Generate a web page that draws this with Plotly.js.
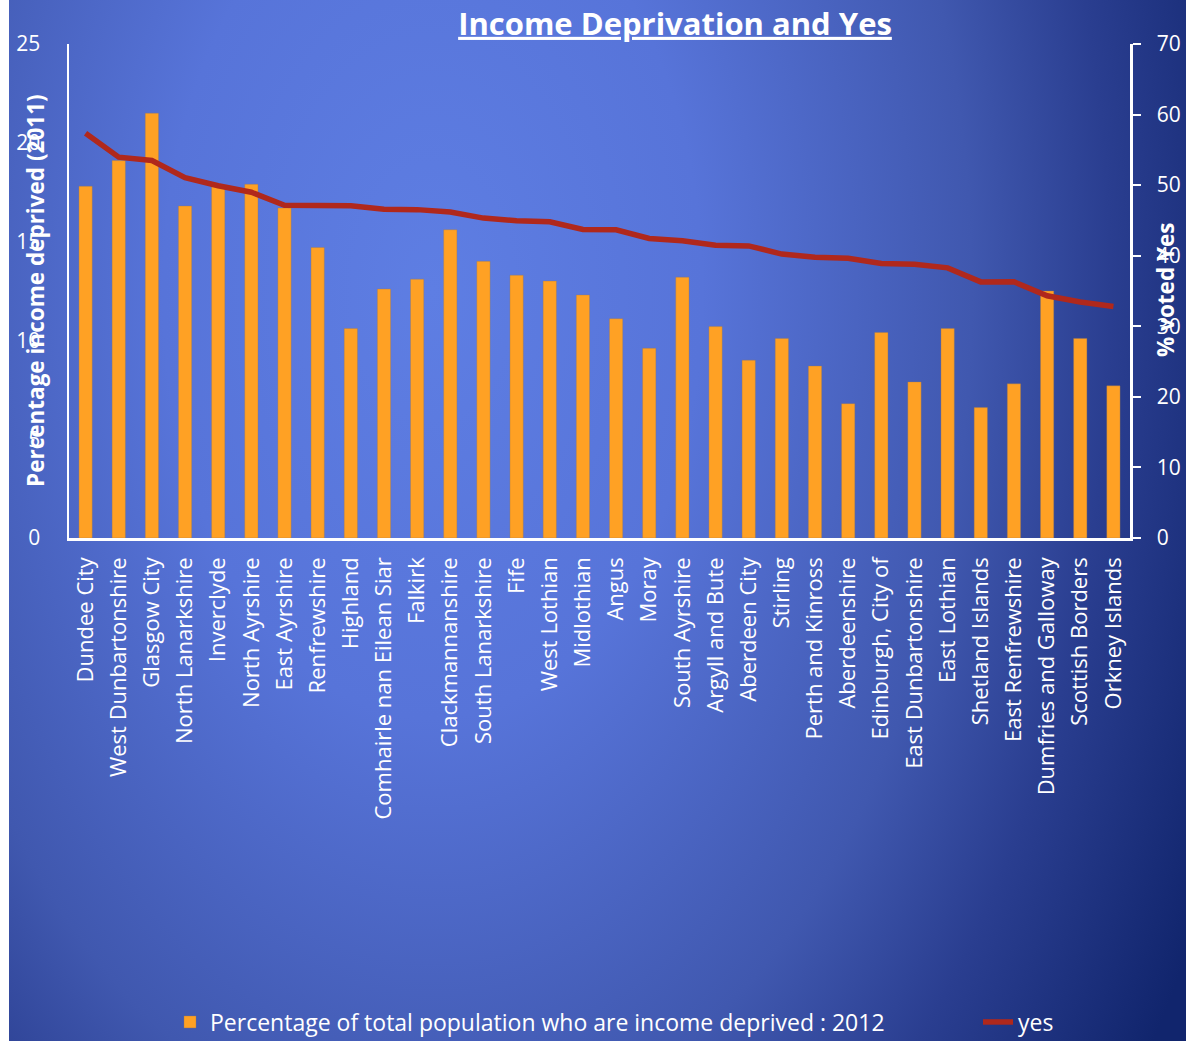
<!DOCTYPE html>
<html>
<head>
<meta charset="utf-8">
<script src="https://cdn.plot.ly/plotly-3.0.1.min.js"></script>
<style>
  html, body { margin: 0; padding: 0; background: #ffffff; }
  #bg {
    position: absolute; left: 9px; top: 0; width: 1177px; height: 1041px;
    background: radial-gradient(ellipse 770px 1220px at 36% 28%, #5E7EE3 0%, #5774D9 35%, #4058AF 70%, #2A3E90 88%, #11256D 112%);
  }
  #chart { position: absolute; left: 0; top: 0; width: 1191px; height: 1041px; }
</style>
</head>
<body>
<div id="bg"></div>
<div id="chart"></div>
<script>
const councils = [
  "Dundee City", "West Dunbartonshire", "Glasgow City", "North Lanarkshire", "Inverclyde",
  "North Ayrshire", "East Ayrshire", "Renfrewshire", "Highland", "Comhairle nan Eilean Siar",
  "Falkirk", "Clackmannanshire", "South Lanarkshire", "Fife", "West Lothian", "Midlothian",
  "Angus", "Moray", "South Ayrshire", "Argyll and Bute", "Aberdeen City", "Stirling",
  "Perth and Kinross", "Aberdeenshire", "Edinburgh, City of", "East Dunbartonshire",
  "East Lothian", "Shetland Islands", "East Renfrewshire", "Dumfries and Galloway",
  "Scottish Borders", "Orkney Islands"
];

const incomeDeprived2012 = [
  17.8, 19.1, 21.5, 16.8, 17.8, 17.9, 16.7, 14.7, 10.6, 12.6,
  13.1, 15.6, 14.0, 13.3, 13.0, 12.3, 11.1, 9.6, 13.2, 10.7,
  9.0, 10.1, 8.7, 6.8, 10.4, 7.9, 10.6, 6.6, 7.8, 12.5, 10.1, 7.7
];

const yesVote = [
  57.35, 53.96, 53.49, 51.07, 49.92, 48.99, 47.16, 47.16, 47.08, 46.58,
  46.53, 46.20, 45.33, 44.95, 44.82, 43.72, 43.68, 42.44, 42.13, 41.48,
  41.39, 40.23, 39.78, 39.64, 38.90, 38.80, 38.28, 36.29, 36.30, 34.33, 33.44, 32.80
];

const leftTicks = [0, 5, 10, 15, 20, 25];
const rightTicks = [0, 10, 20, 30, 40, 50, 60, 70];

const FONT = "Open Sans, DejaVu Sans, sans-serif";

const traces = [
  {
    type: "bar",
    x: councils,
    y: incomeDeprived2012,
    name: "Percentage of total population who are income deprived : 2012",
    marker: { color: "#FFA124", line: { width: 0.6, color: "rgba(150,120,90,0.6)" } },
    width: 0.4,
    yaxis: "y",
    legend: "legend"
  },
  {
    type: "scatter",
    mode: "lines",
    x: councils,
    y: yesVote,
    name: "yes",
    line: { color: "#B0281C", width: 5.5 },
    yaxis: "y2",
    legend: "legend2"
  }
];

const legendBase = {
  orientation: "h",
  xref: "container", yref: "container",
  y: 1 - 1022 / 1041,
  xanchor: "left", yanchor: "middle",
  bgcolor: "rgba(0,0,0,0)",
  font: { family: FONT, size: 23, color: "#ffffff" }
};

const layout = {
  width: 1191,
  height: 1041,
  paper_bgcolor: "rgba(0,0,0,0)",
  plot_bgcolor: "rgba(0,0,0,0)",
  margin: { l: 69, r: 61, t: 44, b: 503 },
  font: { family: FONT, color: "#ffffff", size: 21 },
  title: {
    text: "<b>Income Deprivation and Yes</b>",
    xref: "container", yref: "container",
    x: 675 / 1191, y: 1 - 24 / 1041,
    xanchor: "center", yanchor: "middle",
    font: { family: FONT, size: 31, color: "#ffffff", lineposition: "under" }
  },
  xaxis: {
    type: "category",
    tickangle: -90,
    showline: true, linecolor: "#ffffff", linewidth: 2.5,
    showgrid: false, zeroline: false,
    ticks: "",
    ticklabelstandoff: 8,
    tickfont: { family: FONT, size: 22, color: "#ffffff" },
    automargin: false
  },
  yaxis: {
    range: [0, 25],
    tickvals: leftTicks,
    showline: true, linecolor: "#ffffff", linewidth: 2.5,
    showgrid: false, zeroline: false,
    ticks: "",
    ticklabelstandoff: 22,
    tickfont: { family: FONT, size: 21, color: "#ffffff" },
    automargin: false
  },
  yaxis2: {
    overlaying: "y",
    side: "right",
    range: [0, 70],
    tickvals: rightTicks,
    showline: true, linecolor: "#ffffff", linewidth: 2.5,
    showgrid: false, zeroline: false,
    ticks: "outside", ticklen: 8, tickwidth: 2, tickcolor: "#ffffff",
    ticklabelstandoff: 12,
    tickfont: { family: FONT, size: 21, color: "#ffffff" },
    automargin: false
  },
  annotations: [
    {
      text: "<b>Percentage income deprived (2011)</b>",
      xref: "paper", yref: "paper",
      x: (35 - 69) / 1061, y: (538 - 291) / 494,
      xanchor: "center", yanchor: "middle",
      textangle: -90, showarrow: false,
      font: { family: FONT, size: 22.5, color: "#ffffff" }
    },
    {
      text: "<b>% voted Yes</b>",
      xref: "paper", yref: "paper",
      x: (1165 - 69) / 1061, y: (538 - 290) / 494,
      xanchor: "center", yanchor: "middle",
      textangle: -90, showarrow: false,
      font: { family: FONT, size: 22.5, color: "#ffffff" }
    }
  ],
  showlegend: true,
  legend: Object.assign({}, legendBase, { x: 170 / 1191 }),
  legend2: Object.assign({}, legendBase, { x: 978 / 1191 }),
  bargap: 0.6
};

Plotly.newPlot("chart", traces, layout, { displayModeBar: false, staticPlot: true });
</script>
</body>
</html>
